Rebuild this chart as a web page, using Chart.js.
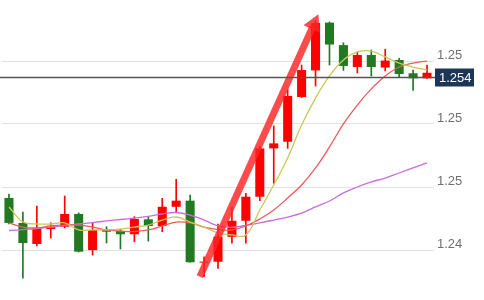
<!DOCTYPE html>
<html>
<head>
<meta charset="utf-8">
<script src="https://cdn.jsdelivr.net/npm/chart.js@4.4.1/dist/chart.umd.min.js"></script>
<style>
  html, body { margin: 0; padding: 0; background: #fff; }
  #wrap { width: 484px; height: 300px; position: relative; }
</style>
</head>
<body>
<div id="wrap"><canvas id="candleChart"></canvas></div>
<script>
// candles, oldest first
var c_open  = [1.24728,1.24589,1.24472,1.24555,1.24568,1.24639,1.24438,1.24553,1.24544,1.24526,1.24609,1.24572,1.24679,1.24713,1.24368,1.24373,1.24512,1.24601,1.24735,1.25004,1.25041,1.25290,1.25438,1.25704,1.25579,1.25457,1.25524,1.25454,1.25496,1.25422,1.25394];
var c_high  = [1.24750,1.24650,1.24683,1.24590,1.24739,1.24645,1.24589,1.24568,1.24555,1.24624,1.24624,1.24726,1.24832,1.24744,1.24401,1.24583,1.24679,1.24754,1.25017,1.25129,1.25329,1.25468,1.25713,1.25708,1.25592,1.25541,1.25552,1.25556,1.25505,1.25440,1.25468];
var c_low   = [1.24584,1.24282,1.24461,1.24505,1.24561,1.24427,1.24410,1.24477,1.24444,1.24484,1.24488,1.24540,1.24651,1.24370,1.24290,1.24336,1.24476,1.24476,1.24713,1.24810,1.25004,1.25287,1.25351,1.25468,1.25438,1.25424,1.25407,1.25435,1.25400,1.25326,1.25394];
var c_close = [1.24589,1.24477,1.24561,1.24566,1.24639,1.24429,1.24550,1.24540,1.24526,1.24611,1.24572,1.24679,1.24713,1.24370,1.24373,1.24512,1.24601,1.24735,1.25004,1.25032,1.25296,1.25440,1.25702,1.25582,1.25463,1.25524,1.25457,1.25493,1.25418,1.25394,1.25425];

// moving averages
var ma_fast = [1.24678,1.24594,1.24583,1.24583,1.24589,1.24550,1.24550,1.24550,1.24555,1.24566,1.24577,1.24605,1.24622,1.24594,1.24566,1.24533,1.24522,1.24522,1.24661,1.24800,1.24950,1.25134,1.25284,1.25407,1.25496,1.25541,1.25546,1.25513,1.25479,1.25457,1.25440];
var ma_mid  = [1.24589,1.24566,1.24561,1.24572,1.24577,1.24577,1.24566,1.24550,1.24544,1.24541,1.24550,1.24572,1.24594,1.24589,1.24566,1.24552,1.24550,1.24572,1.24611,1.24661,1.24728,1.24800,1.24895,1.25012,1.25140,1.25245,1.25335,1.25407,1.25457,1.25479,1.25490];
var ma_slow = [1.24547,1.24552,1.24558,1.24566,1.24575,1.24583,1.24591,1.24600,1.24608,1.24616,1.24625,1.24639,1.24647,1.24633,1.24605,1.24572,1.24564,1.24575,1.24589,1.24605,1.24622,1.24644,1.24678,1.24711,1.24756,1.24789,1.24817,1.24839,1.24867,1.24895,1.24923];

var y_ticks = [1.24438, 1.24789, 1.25140, 1.25490];
var last_price = 1.254;
// arrow drawn on the chart: [candle index, price]
var arrow_from = [13.7, 1.2429];
var arrow_to = [22.2, 1.2575];

var col_up = '#ff0000';
var col_down = '#217a21';

var labels = c_open.map(function (v, i) { return 'k' + (i + 1); });
var bodies = [];
var wicks = [];
var colors = [];
var i = 0;
while (i < c_open.length) {
    bodies.push([c_open[i], c_close[i]]);
    wicks.push([c_low[i], c_high[i]]);
    colors.push(c_close[i] >= c_open[i] ? col_up : col_down);
    i = i + 1;
}

var extras = {
    id: 'extras',
    afterDatasetsDraw: function (chart) {
        var ctx = chart.ctx;
        var xs = chart.scales.x, ys = chart.scales.y;
        // arrow
        var x0 = xs.getPixelForValue(arrow_from[0]), y0 = ys.getPixelForValue(arrow_from[1]);
        var x1 = xs.getPixelForValue(arrow_to[0]), y1 = ys.getPixelForValue(arrow_to[1]);
        var dx = x1 - x0, dy = y1 - y0, len = Math.sqrt(dx * dx + dy * dy);
        var ux = dx / len, uy = dy / len;
        var headL = 16, headW = 9;
        var bx = x1 - ux * headL, by = y1 - uy * headL;
        ctx.save();
        ctx.strokeStyle = 'rgba(255,35,35,0.82)';
        ctx.fillStyle = 'rgba(255,35,35,0.82)';
        ctx.lineWidth = 7;
        ctx.beginPath();
        ctx.moveTo(x0, y0);
        ctx.lineTo(bx + ux * 2, by + uy * 2);
        ctx.stroke();
        ctx.beginPath();
        ctx.moveTo(x1, y1);
        ctx.lineTo(bx - uy * headW, by + ux * headW);
        ctx.lineTo(bx + uy * headW, by - ux * headW);
        ctx.closePath();
        ctx.fill();
        ctx.restore();
    },
    afterDraw: function (chart) {
        var ctx = chart.ctx;
        var ys = chart.scales.y;
        var area = chart.chartArea;
        var py = Math.round(ys.getPixelForValue(last_price)) + 0.5;
        ctx.save();
        ctx.strokeStyle = '#555';
        ctx.lineWidth = 1.5;
        ctx.beginPath();
        ctx.moveTo(0, py);
        ctx.lineTo(area.right + 2, py);
        ctx.stroke();
        ctx.fillStyle = '#1d3657';
        ctx.fillRect(area.right + 1, py - 9, 39, 18);
        ctx.fillStyle = '#ffffff';
        ctx.font = '13px "Liberation Sans", Arial, sans-serif';
        ctx.textBaseline = 'middle';
        ctx.textAlign = 'left';
        ctx.fillText(last_price.toFixed(3), area.right + 5, py + 1);
        ctx.restore();
    }
};

var ctx = document.getElementById('candleChart').getContext('2d');
window.candle_chart = new Chart(ctx, {
    type: 'bar',
    plugins: [extras],
    data: {
        labels: labels,
        datasets: [
            {
                type: 'line', label: 'MA fast', data: ma_fast, order: 0,
                borderColor: 'rgb(200,200,90)', borderWidth: 1.3, pointRadius: 0, tension: 0.4, fill: false
            },
            {
                type: 'line', label: 'MA mid', data: ma_mid, order: 0,
                borderColor: 'rgb(240,90,90)', borderWidth: 1.3, pointRadius: 0, tension: 0.4, fill: false
            },
            {
                type: 'line', label: 'MA slow', data: ma_slow, order: 0,
                borderColor: 'rgb(200,110,220)', borderWidth: 1.3, pointRadius: 0, tension: 0.4, fill: false
            },
            {
                label: 'body', data: bodies, order: 1, grouped: false,
                backgroundColor: colors, borderWidth: 0,
                barPercentage: 0.65, categoryPercentage: 1, minBarLength: 1
            },
            {
                label: 'wick', data: wicks, order: 2, grouped: false,
                backgroundColor: colors, borderWidth: 0,
                barThickness: 1
            }
        ]
    },
    options: {
        responsive: true,
        maintainAspectRatio: false,
        animation: false,
        layout: { padding: { left: 2, top: 0, right: 0, bottom: 0 } },
        plugins: {
            legend: { display: false },
            tooltip: { enabled: false }
        },
        scales: {
            x: {
                display: false,
                offset: true
            },
            y: {
                position: 'right',
                min: 1.2416,
                max: 1.2583,
                border: { display: false },
                grid: { color: '#e2e2e2', drawTicks: false, lineWidth: 1 },
                afterBuildTicks: function (scale) {
                    scale.ticks = y_ticks.map(function (v) { return { value: v }; });
                },
                afterFit: function (scale) {
                    scale.width = 50;
                    scale.paddingTop = 0;
                    scale.paddingBottom = 0;
                },
                ticks: {
                    padding: 3,
                    labelOffset: -6,
                    color: '#707070',
                    font: { family: '"Liberation Sans", Arial, sans-serif', size: 13 },
                    callback: function (v) { return Number(v).toFixed(2); }
                }
            }
        }
    }
});
</script>
</body>
</html>
